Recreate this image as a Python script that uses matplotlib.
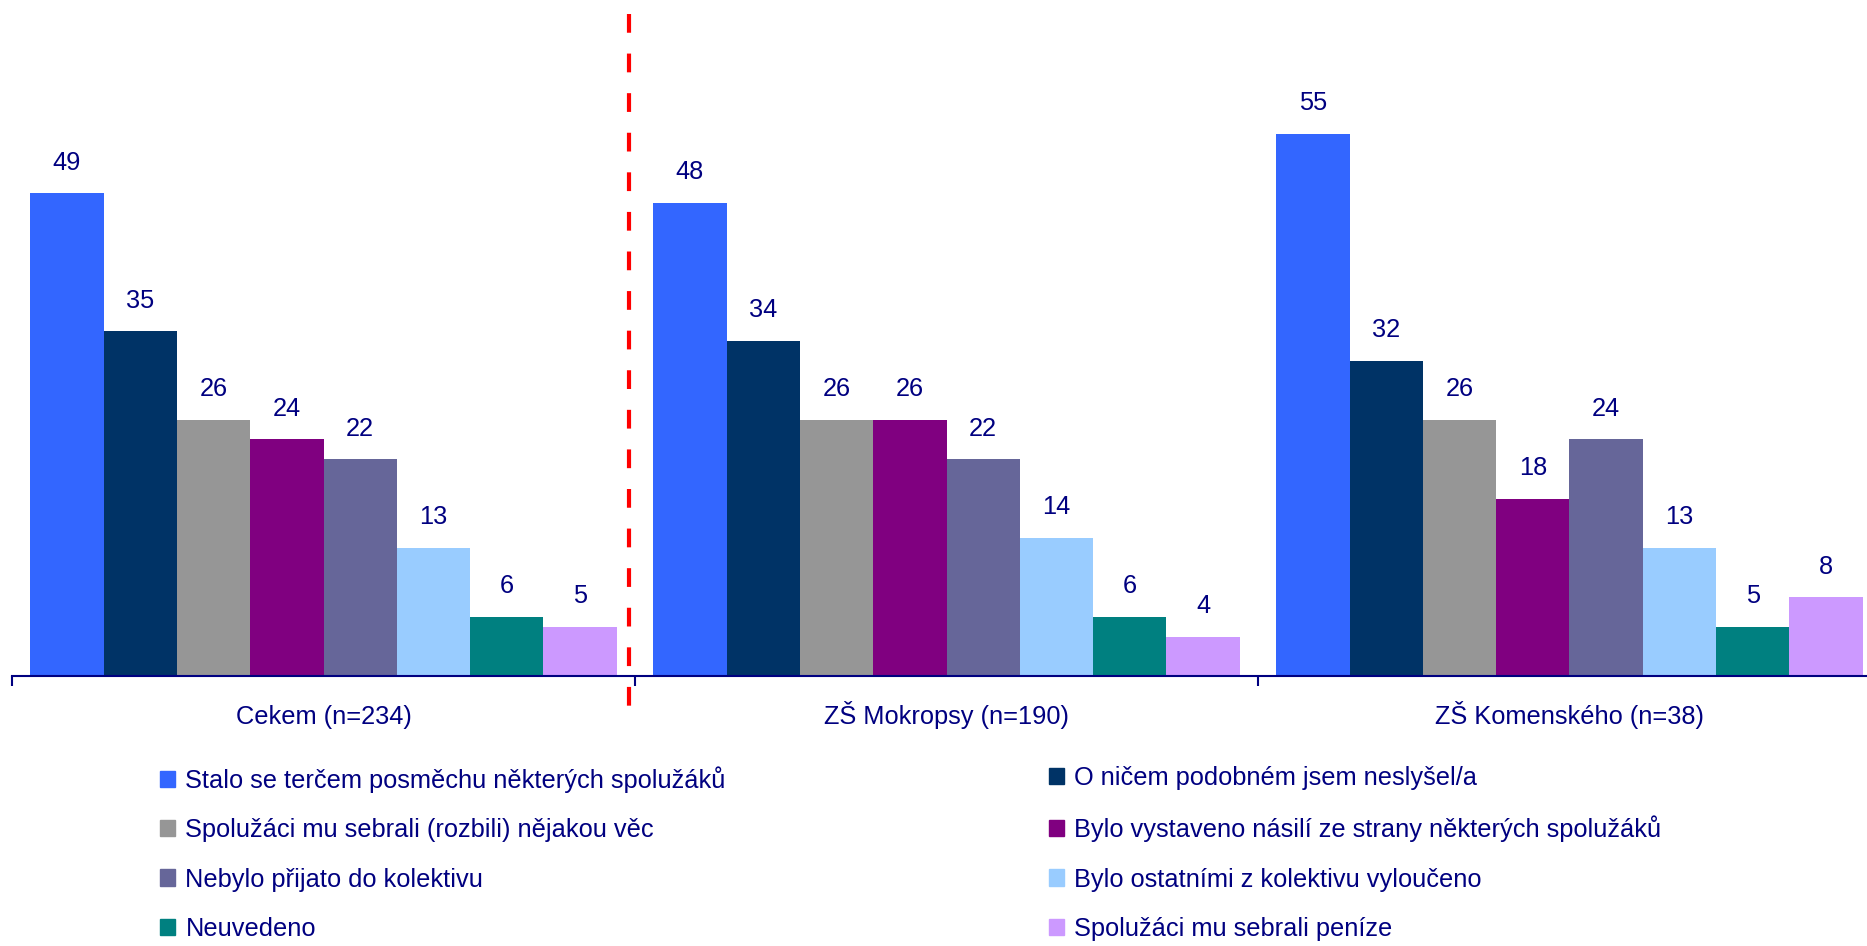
import numpy as np
import matplotlib.pyplot as plt
from matplotlib.patches import Rectangle

plt.rcParams['font.family'] = ['Liberation Sans', 'DejaVu Sans']

groups = ['Cekem (n=234)', 'ZŠ Mokropsy (n=190)', 'ZŠ Komenského (n=38)']
series = [
    'Stalo se terčem posměchu některých spolužáků',
    'O ničem podobném jsem neslyšel/a',
    'Spolužáci mu sebrali (rozbili) nějakou věc',
    'Bylo vystaveno násilí ze strany některých spolužáků',
    'Nebylo přijato do kolektivu',
    'Bylo ostatními z kolektivu vyloučeno',
    'Neuvedeno',
    'Spolužáci mu sebrali peníze',
]
stalo = [49, 48, 55]
nicem = [35, 34, 32]
vec = [26, 26, 26]
nasili = [24, 26, 18]
neprijato = [22, 22, 24]
vylouceno = [13, 14, 13]
neuvedeno = [6, 6, 5]
penize = [5, 4, 8]
values = [stalo, nicem, vec, nasili, neprijato, vylouceno, neuvedeno, penize]

colors = ['#3366FF', '#003366', '#969696', '#800080',
          '#666699', '#99CCFF', '#008080', '#CC99FF']
navy = '#000080'
fs = 18.3

fig = plt.figure(figsize=(18.67, 9.46), dpi=100)
# axes runs a bit past the right edge, like the original
ax = fig.add_axes([12 / 1867, 1 - 676 / 946, 1869 / 1867, 676 / 946])

n = len(series)
bw = 1 / (n + 0.5)
x = np.arange(len(groups))
for i, (vals, col) in enumerate(zip(values, colors)):
    pos = x - 0.5 + bw * 0.25 + bw * (i + 0.5)
    ax.bar(pos, vals, width=bw, color=col, linewidth=0)
    for p, v in zip(pos, vals):
        ax.annotate(str(v), (p, v), xytext=(0, 22), textcoords='offset points',
                    ha='center', va='center', fontsize=fs, color=navy)

ax.set_xlim(-0.5, len(groups) - 0.5)
ax.set_ylim(0, 68.6)
ax.set_yticks([])
for s in ['left', 'top', 'right']:
    ax.spines[s].set_visible(False)
ax.spines['bottom'].set_color(navy)
ax.spines['bottom'].set_linewidth(1.5)

ax.set_xticks(np.arange(len(groups) + 1) - 0.5)
ax.set_xticklabels([])
ax.tick_params(axis='x', which='major', length=7, width=1.5, color=navy)

# group names, same baseline
for xi, g in zip(x, groups):
    ax.annotate(g, (xi, 0), xycoords=('data', 'axes fraction'),
                xytext=(0, -34.5), textcoords='offset points',
                ha='center', va='baseline', fontsize=fs, color=navy,
                annotation_clip=False)

# red separator after the total, dashes start at the top
ax.plot([0.49, 0.49], [0.979, -0.071], transform=ax.get_xaxis_transform(),
        color='#FF0000', lw=3, linestyle=(0, (4.5, 5)), clip_on=False)

# legend in two columns, row-major order
patches = [Rectangle((0, 0), 1, 1, color=c) for c in colors]
leg_kw = dict(frameon=False, fontsize=fs, labelcolor=navy, loc='upper left',
              handlelength=0.6, handleheight=0.6, handletextpad=0.4,
              labelspacing=1.0, borderpad=0, borderaxespad=0)
fig.legend(patches[0::2], series[0::2],
           bbox_to_anchor=(160 / 1867, 1 - 766 / 946), **leg_kw)
fig.legend(patches[1::2], series[1::2],
           bbox_to_anchor=(1049 / 1867, 1 - 766 / 946), **leg_kw)

fig.savefig('out.png', dpi=100)
